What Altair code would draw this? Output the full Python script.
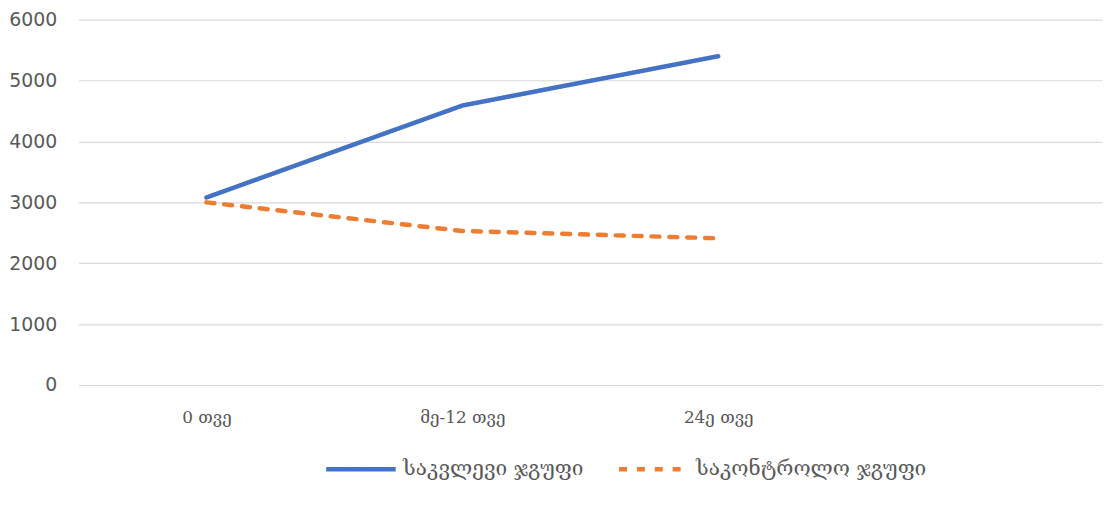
import altair as alt
import pandas as pd

categories = ["0 თვე", "მე-12 თვე", "24ე თვე"]
x_domain = categories + [" "]
series_names = ["საკვლევი ჯგუფი", "საკონტროლო ჯგუფი"]
study_values = [3080, 4590, 5400]
control_values = [3000, 2530, 2410]
colors = ["#4472C4", "#ED7D31"]
y_ticks = [0, 1000, 2000, 3000, 4000, 5000, 6000]

rows = []
for c, v in zip(categories, study_values):
    rows.append({"cat": c, "value": v, "series": series_names[0]})
for c, v in zip(categories, control_values):
    rows.append({"cat": c, "value": v, "series": series_names[1]})
df = pd.DataFrame(rows)

chart = alt.Chart(df).mark_line(strokeWidth=4.5, strokeCap="round", strokeJoin="round").encode(
    x=alt.X("cat:N", scale=alt.Scale(type="point", domain=x_domain, padding=0.5),
            axis=alt.Axis(title=None, domain=False, ticks=False, grid=False,
                          labelFont="DejaVu Serif", labelFontSize=17, labelColor="#595959",
                          labelPadding=25, labelAngle=0)),
    y=alt.Y("value:Q", scale=alt.Scale(domain=[0, 6000], nice=False),
            axis=alt.Axis(title=None, values=y_ticks, format="d", domain=False, ticks=False,
                          labelFont="DejaVu Sans", labelFontSize=19, labelColor="#595959",
                          labelPadding=22, gridColor="#d9d9d9", gridWidth=1.2)),
    color=alt.Color("series:N", scale=alt.Scale(domain=series_names, range=colors),
                    legend=alt.Legend(title=None, orient="none", direction="horizontal",
                                      legendX=247, legendY=415, symbolType="stroke",
                                      symbolSize=4900, symbolStrokeWidth=4.5,
                                      labelFont="DejaVu Serif", labelFontSize=21,
                                      labelColor="#595959", labelLimit=400,
                                      columnPadding=26, labelOffset=5)),
    strokeDash=alt.StrokeDash("series:N", scale=alt.Scale(domain=series_names, range=[[1, 0], [8, 10]]),
                              legend=None),
    detail="series:N",
).properties(
    width=1031, height=368,
    autosize=alt.AutoSizeParams(type="none"),
    padding={"left": 71, "top": 10, "right": 5, "bottom": 110},
).configure_view(stroke=None)

chart.save("out.html", embed_options={"renderer": "svg", "actions": False})
